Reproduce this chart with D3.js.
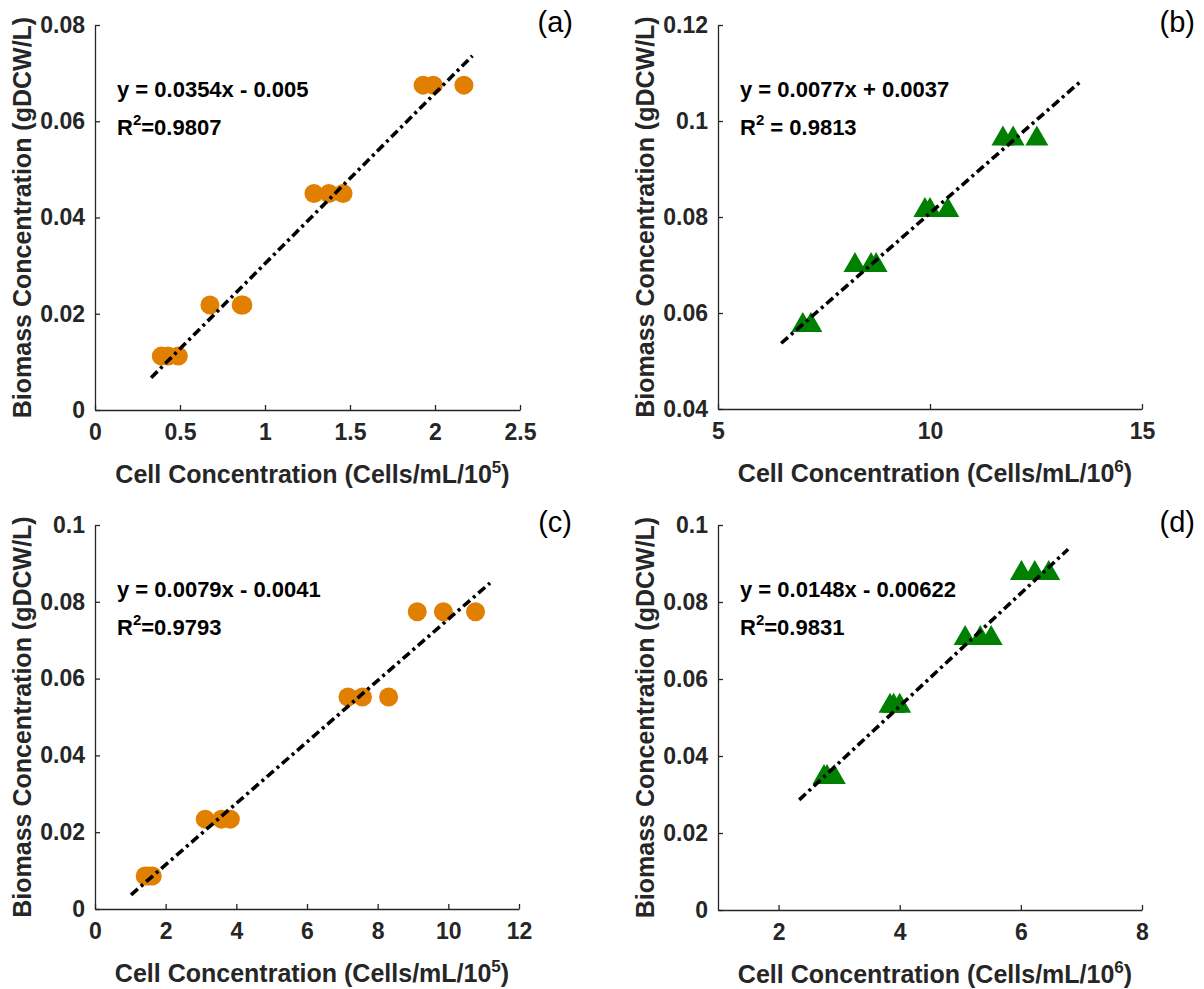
<!DOCTYPE html>
<html>
<head>
<meta charset="utf-8">
<script src="https://cdn.jsdelivr.net/npm/d3@7"></script>
<style>
  body { margin: 0; background: #fff; }
  svg { display: block; }
</style>
</head>
<body>
<div id="wrapper"></div>
<script>
// ---- data ----
// (a) orange circles, cells/mL/1e5 vs gDCW/L
const aCells   = [0.39, 0.43, 0.49, 0.676, 0.86, 0.87, 1.288, 1.376, 1.459, 1.93, 1.99, 2.17];
const aBiomass = [0.0112, 0.0112, 0.0112, 0.0218, 0.0218, 0.0218, 0.045, 0.045, 0.045, 0.0675, 0.0675, 0.0675];
const aFit     = [[0.33, 0.0067], [2.22, 0.0736]];
const aXTicks  = [0, 0.5, 1, 1.5, 2, 2.5];
const aYTicks  = [0, 0.02, 0.04, 0.06, 0.08];
const aText    = ["y = 0.0354x - 0.005", "=0.9807"];

// (b) green triangles, cells/mL/1e6
const bCells   = [7.0, 7.19, 8.23, 8.61, 8.73, 9.88, 10.0, 10.42, 11.72, 11.96, 12.52];
const bBiomass = [0.0581, 0.0581, 0.0706, 0.0706, 0.0706, 0.0821, 0.0821, 0.0821, 0.097, 0.097, 0.097];
const bFit     = [[6.49, 0.0537], [13.56, 0.1083]];
const bXTicks  = [5, 10, 15];
const bYTicks  = [0.04, 0.06, 0.08, 0.1, 0.12];
const bText    = ["y = 0.0077x + 0.0037", " = 0.9813"];

// (c) orange circles, cells/mL/1e5
const cCells   = [1.42, 1.52, 1.62, 3.12, 3.58, 3.83, 7.16, 7.57, 8.31, 9.12, 9.86, 10.77];
const cBiomass = [0.0086, 0.0086, 0.0086, 0.0234, 0.0234, 0.0234, 0.0552, 0.0552, 0.0552, 0.0774, 0.0774, 0.0774];
const cFit     = [[1.02, 0.0037], [11.18, 0.0849]];
const cXTicks  = [0, 2, 4, 6, 8, 10, 12];
const cYTicks  = [0, 0.02, 0.04, 0.06, 0.08, 0.1];
const cText    = ["y = 0.0079x - 0.0041", "=0.9793"];

// (d) green triangles, cells/mL/1e6
const dCells   = [2.75, 2.8, 2.92, 3.84, 3.9, 4.0, 5.08, 5.33, 5.51, 6.01, 6.23, 6.46];
const dBiomass = [0.0353, 0.0353, 0.0353, 0.0538, 0.0538, 0.0538, 0.0714, 0.0714, 0.0714, 0.0883, 0.0883, 0.0883];
const dFit     = [[2.34, 0.0286], [6.78, 0.0937]];
const dXTicks  = [2, 4, 6, 8];
const dYTicks  = [0, 0.02, 0.04, 0.06, 0.08, 0.1];
const dText    = ["y = 0.0148x - 0.00622", "=0.9831"];

const yTitle = "Biomass Concentration (gDCW/L)";

// ---- layout ----
const width = 1204;
const height = 989;
const font = "'Liberation Sans', Arial, Helvetica, sans-serif";
const axisColor = "#262626";

const panels = [
  { tag: "(a)", cells: aCells, biomass: aBiomass, fit: aFit, xTicks: aXTicks, yTicks: aYTicks, text: aText,
    xDomain: [0, 2.5], yDomain: [0, 0.08], exp: "5", marker: "circle",
    left: 95, right: 520, top: 25, bottom: 410 },
  { tag: "(b)", cells: bCells, biomass: bBiomass, fit: bFit, xTicks: bXTicks, yTicks: bYTicks, text: bText,
    xDomain: [5, 15], yDomain: [0.04, 0.12], exp: "6", marker: "triangle",
    left: 718, right: 1142, top: 25, bottom: 409 },
  { tag: "(c)", cells: cCells, biomass: cBiomass, fit: cFit, xTicks: cXTicks, yTicks: cYTicks, text: cText,
    xDomain: [0, 12], yDomain: [0, 0.1], exp: "5", marker: "circle",
    left: 95, right: 519, top: 525, bottom: 909 },
  { tag: "(d)", cells: dCells, biomass: dBiomass, fit: dFit, xTicks: dXTicks, yTicks: dYTicks, text: dText,
    xDomain: [1, 8], yDomain: [0, 0.1], exp: "6", marker: "triangle",
    left: 718, right: 1142, top: 525, bottom: 910 },
];

const svg = d3.select("#wrapper")
  .append("svg")
  .attr("width", width)
  .attr("height", height)
  .style("font-family", font);

function drawPanel(p) {
  const g = svg.append("g");

  const xScale = d3.scaleLinear().domain(p.xDomain).range([p.left, p.right]);
  const yScale = d3.scaleLinear().domain(p.yDomain).range([p.bottom, p.top]);

  // markers
  const pts = p.cells.map((c, i) => [c, p.biomass[i]]);
  if (p.marker === "circle") {
    g.append("g").selectAll("circle")
      .data(pts)
      .enter().append("circle")
      .attr("cx", d => xScale(d[0]))
      .attr("cy", d => yScale(d[1]))
      .attr("r", 9.5)
      .attr("fill", "#E07F00");
  } else {
    const tri = "M0,-10L11.5,10L-11.5,10Z";
    g.append("g").selectAll("path")
      .data(pts)
      .enter().append("path")
      .attr("transform", d => `translate(${xScale(d[0])},${yScale(d[1])})`)
      .attr("d", tri)
      .attr("fill", "#008000");
  }

  // fitted trend line (dash-dot)
  const line = d3.line().x(d => xScale(d[0])).y(d => yScale(d[1]));
  g.append("path")
    .attr("d", line(p.fit))
    .attr("fill", "none")
    .attr("stroke", "#000")
    .attr("stroke-width", 3.6)
    .attr("stroke-dasharray", "9 4 3 4");

  // axes
  const xAxis = g.append("g")
    .attr("transform", `translate(0,${p.bottom})`)
    .call(d3.axisBottom(xScale).tickValues(p.xTicks).tickFormat(d3.format("~g"))
      .tickSizeInner(-5).tickSizeOuter(0).tickPadding(14));
  const yAxis = g.append("g")
    .attr("transform", `translate(${p.left},0)`)
    .call(d3.axisLeft(yScale).tickValues(p.yTicks).tickFormat(d3.format("~g"))
      .tickSizeInner(-5).tickSizeOuter(0).tickPadding(10));
  [xAxis, yAxis].forEach(ax => {
    ax.select(".domain").attr("stroke", axisColor).attr("stroke-width", 1.3);
    ax.selectAll(".tick line").attr("stroke", axisColor).attr("stroke-width", 1.3);
    ax.selectAll(".tick text")
      .attr("fill", axisColor)
      .style("font-family", font)
      .style("font-size", "23px")
      .style("font-weight", "bold");
  });

  // axis titles
  const xt = g.append("text")
    .attr("x", (p.left + p.right) / 2 + 5)
    .attr("y", p.bottom + 73)
    .attr("text-anchor", "middle")
    .attr("fill", axisColor)
    .style("font-size", "25px")
    .style("font-weight", "bold");
  xt.append("tspan").text("Cell Concentration (Cells/mL/10");
  xt.append("tspan").attr("dy", "-10").style("font-size", "17px").text(p.exp);
  xt.append("tspan").attr("dy", "10").text(")");

  g.append("text")
    .attr("transform", `translate(${p.left - 64},${(p.top + p.bottom) / 2}) rotate(-90)`)
    .attr("text-anchor", "middle")
    .attr("fill", axisColor)
    .style("font-size", "25px")
    .style("font-weight", "bold")
    .text(yTitle);

  // equation annotation
  g.append("text")
    .attr("x", p.left + 22)
    .attr("y", p.top + 72)
    .attr("fill", "#000")
    .style("font-size", "22px")
    .style("font-weight", "bold")
    .text(p.text[0]);
  const r2 = g.append("text")
    .attr("x", p.left + 22)
    .attr("y", p.top + 110)
    .attr("fill", "#000")
    .style("font-size", "22px")
    .style("font-weight", "bold");
  r2.append("tspan").text("R");
  r2.append("tspan").attr("dy", "-10").style("font-size", "15px").text("2");
  r2.append("tspan").attr("dy", "10").text(p.text[1]);

  // panel tag
  g.append("text")
    .attr("x", p.right + 53)
    .attr("y", p.top + 7)
    .attr("text-anchor", "end")
    .attr("fill", "#000")
    .style("font-size", "29px")
    .text(p.tag);
}

panels.forEach(drawPanel);
</script>
</body>
</html>
